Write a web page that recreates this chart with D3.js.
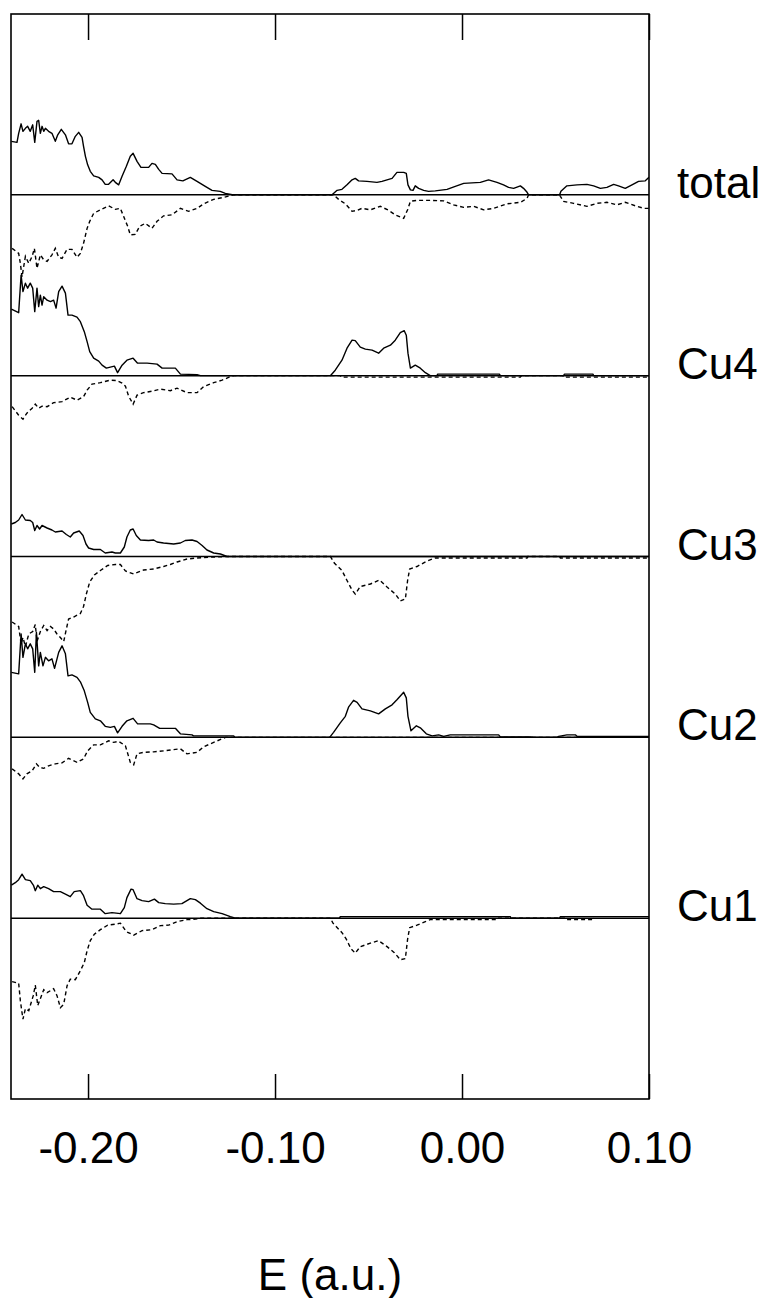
<!DOCTYPE html>
<html>
<head>
<meta charset="utf-8">
<script src="https://cdn.jsdelivr.net/npm/d3@7"></script>
<style>
  html, body { margin: 0; padding: 0; background: #fff; }
  svg { display: block; }
  text { font-family: "Liberation Sans", Arial, Helvetica, sans-serif; fill: #000; }
</style>
</head>
<body>
<script>
// Spin-resolved density of states: total and per Cu site.
// Each curve is a list of [energy (a.u.), DOS] pairs; spin up positive, spin down negative.

const panelLabels = ["total", "Cu4", "Cu3", "Cu2", "Cu1"];
const energyTicks = [-0.20, -0.10, 0.00, 0.10];
const energyDomain = [-0.2412, 0.10];
const axisTitle = "E (a.u.)";

const totalUp = [
  [-0.2410,1.07],[-0.2380,1.05],[-0.2371,1.23],[-0.2358,1.42],[-0.2348,1.27],[-0.2335,1.33],[-0.2323,1.37],[-0.2309,1.27],[-0.2296,1.40],[-0.2285,1.05],[-0.2273,1.47],[-0.2264,1.49],[-0.2255,1.23],[-0.2246,1.37],[-0.2237,1.27],[-0.2228,1.33],[-0.2211,1.27],[-0.2193,1.23],[-0.2175,1.07],[-0.2162,1.20],[-0.2143,1.31],[-0.2121,1.20],[-0.2104,1.02],[-0.2086,1.02],[-0.2068,1.17],[-0.2050,1.25],[-0.2032,1.15],[-0.2024,0.97],[-0.2014,0.77],[-0.2002,0.60],[-0.1988,0.47],[-0.1970,0.38],[-0.1943,0.35],[-0.1925,0.30],[-0.1908,0.21],[-0.1890,0.21],[-0.1866,0.30],[-0.1854,0.25],[-0.1836,0.20],[-0.1818,0.37],[-0.1795,0.57],[-0.1774,0.77],[-0.1759,0.83],[-0.1738,0.67],[-0.1717,0.55],[-0.1676,0.55],[-0.1658,0.63],[-0.1640,0.61],[-0.1622,0.51],[-0.1604,0.43],[-0.1551,0.42],[-0.1524,0.30],[-0.1493,0.28],[-0.1453,0.35],[-0.1417,0.27],[-0.1373,0.17],[-0.1337,0.09],[-0.1293,0.07],[-0.1266,0.03],[-0.1221,0],
  [-0.0695,0],[-0.0668,0.09],[-0.0642,0.11],[-0.0615,0.20],[-0.0588,0.30],[-0.0571,0.33],[-0.0553,0.28],[-0.0508,0.27],[-0.0455,0.25],[-0.0428,0.27],[-0.0401,0.30],[-0.0374,0.33],[-0.0348,0.45],[-0.0312,0.45],[-0.0298,0.43],[-0.0289,0.20],[-0.0276,0.10],[-0.0262,0.09],[-0.0250,0.18],[-0.0232,0.13],[-0.0205,0.09],[-0.0179,0.07],[-0.0143,0.08],[-0.0080,0.11],[-0.0036,0.17],[0.0009,0.23],[0.0098,0.25],[0.0142,0.30],[0.0187,0.25],[0.0222,0.20],[0.0249,0.15],[0.0276,0.13],[0.0312,0.18],[0.0329,0.13],[0.0348,0.05],[0.0356,0],
  [0.0522,0],[0.0529,0.07],[0.0561,0.18],[0.0615,0.20],[0.0668,0.21],[0.0704,0.18],[0.0740,0.13],[0.0775,0.15],[0.0811,0.21],[0.0837,0.18],[0.0873,0.13],[0.0909,0.20],[0.0944,0.27],[0.0980,0.28],[0.1000,0.35]
];
const totalDown = [
  [-0.2406,-1.07],[-0.2371,-1.17],[-0.2362,-1.37],[-0.2353,-1.64],[-0.2335,-1.23],[-0.2317,-1.37],[-0.2299,-1.23],[-0.2287,-1.07],[-0.2273,-1.47],[-0.2255,-1.20],[-0.2237,-1.30],[-0.2219,-1.33],[-0.2193,-1.20],[-0.2175,-1.07],[-0.2157,-1.25],[-0.2139,-1.27],[-0.2112,-1.09],[-0.2086,-1.09],[-0.2059,-1.25],[-0.2041,-1.17],[-0.2024,-0.97],[-0.2005,-0.67],[-0.1991,-0.53],[-0.1970,-0.37],[-0.1934,-0.30],[-0.1890,-0.22],[-0.1854,-0.29],[-0.1827,-0.27],[-0.1810,-0.43],[-0.1788,-0.63],[-0.1774,-0.80],[-0.1747,-0.79],[-0.1724,-0.63],[-0.1694,-0.57],[-0.1658,-0.67],[-0.1631,-0.53],[-0.1596,-0.42],[-0.1551,-0.40],[-0.1506,-0.27],[-0.1462,-0.33],[-0.1417,-0.27],[-0.1382,-0.18],[-0.1328,-0.09],[-0.1275,-0.05],[-0.1221,0],
  [-0.0687,0],[-0.0660,-0.09],[-0.0624,-0.18],[-0.0588,-0.33],[-0.0561,-0.31],[-0.0535,-0.27],[-0.0490,-0.30],[-0.0437,-0.23],[-0.0392,-0.31],[-0.0357,-0.40],[-0.0312,-0.47],[-0.0291,-0.30],[-0.0276,-0.13],[-0.0241,-0.11],[-0.0170,-0.11],[-0.0098,-0.12],[-0.0045,-0.20],[0.0009,-0.25],[0.0062,-0.23],[0.0116,-0.30],[0.0169,-0.27],[0.0241,-0.18],[0.0312,-0.15],[0.0348,-0.07],[0.0356,0],
  [0.0522,0],[0.0526,-0.03],[0.0543,-0.13],[0.0597,-0.17],[0.0668,-0.23],[0.0722,-0.17],[0.0775,-0.15],[0.0829,-0.20],[0.0873,-0.15],[0.0927,-0.22],[0.0971,-0.27],[0.1000,-0.27]
];

const cu4Up = [
  [-0.2410,1.33],[-0.2371,1.26],[-0.2358,2.01],[-0.2348,1.68],[-0.2335,1.85],[-0.2323,1.75],[-0.2309,1.85],[-0.2296,1.75],[-0.2285,1.28],[-0.2273,1.75],[-0.2264,1.38],[-0.2255,1.61],[-0.2246,1.41],[-0.2237,1.58],[-0.2219,1.51],[-0.2201,1.48],[-0.2184,1.51],[-0.2171,1.35],[-0.2157,1.68],[-0.2139,1.79],[-0.2121,1.65],[-0.2107,1.21],[-0.2086,1.21],[-0.2059,1.17],[-0.2041,1.08],[-0.2020,0.88],[-0.2005,0.68],[-0.1991,0.48],[-0.1970,0.35],[-0.1943,0.29],[-0.1925,0.21],[-0.1902,0.15],[-0.1881,0.17],[-0.1859,0.19],[-0.1842,0.06],[-0.1818,0.21],[-0.1792,0.31],[-0.1759,0.35],[-0.1735,0.25],[-0.1684,0.25],[-0.1631,0.23],[-0.1604,0.15],[-0.1533,0.15],[-0.1506,0.03],[-0.1417,0.02],[-0.1399,0],
  [-0.0704,0],[-0.0678,0.11],[-0.0642,0.31],[-0.0615,0.55],[-0.0588,0.71],[-0.0571,0.70],[-0.0544,0.57],[-0.0517,0.53],[-0.0481,0.51],[-0.0446,0.45],[-0.0419,0.55],[-0.0383,0.61],[-0.0357,0.71],[-0.0330,0.86],[-0.0309,0.90],[-0.0298,0.81],[-0.0289,0.45],[-0.0276,0.15],[-0.0250,0.21],[-0.0223,0.15],[-0.0196,0.06],[-0.0170,0],
  [-0.0134,0],[-0.0130,0.03],[0.0200,0.03],[0.0205,0],
  [0.0543,0],[0.0548,0.03],[0.0700,0.03],[0.0704,0],[0.1000,0]
];
const cu4Down = [
  [-0.2406,-0.62],[-0.2371,-0.79],[-0.2348,-0.87],[-0.2327,-0.75],[-0.2299,-0.65],[-0.2282,-0.57],[-0.2264,-0.65],[-0.2246,-0.61],[-0.2219,-0.62],[-0.2184,-0.54],[-0.2139,-0.52],[-0.2095,-0.43],[-0.2059,-0.49],[-0.2024,-0.42],[-0.2005,-0.29],[-0.1979,-0.17],[-0.1934,-0.14],[-0.1881,-0.09],[-0.1845,-0.10],[-0.1818,-0.15],[-0.1800,-0.21],[-0.1783,-0.41],[-0.1759,-0.57],[-0.1738,-0.39],[-0.1703,-0.34],[-0.1658,-0.31],[-0.1613,-0.27],[-0.1560,-0.30],[-0.1524,-0.25],[-0.1471,-0.34],[-0.1417,-0.34],[-0.1382,-0.22],[-0.1328,-0.14],[-0.1283,-0.09],[-0.1239,-0.02],[-0.1221,0],
  [-0.0651,0],[-0.0645,-0.03],[0.0312,-0.03],[0.0318,0],
  [0.0540,0],[0.0543,-0.03],[0.1000,-0.03]
];

const cu3Up = [
  [-0.2410,0.65],[-0.2389,0.68],[-0.2371,0.73],[-0.2353,0.84],[-0.2335,0.73],[-0.2309,0.72],[-0.2296,0.68],[-0.2285,0.52],[-0.2273,0.62],[-0.2259,0.55],[-0.2246,0.62],[-0.2219,0.57],[-0.2193,0.53],[-0.2175,0.49],[-0.2139,0.51],[-0.2116,0.44],[-0.2095,0.39],[-0.2077,0.47],[-0.2047,0.51],[-0.2027,0.42],[-0.2011,0.25],[-0.1997,0.17],[-0.1970,0.14],[-0.1934,0.14],[-0.1908,0.07],[-0.1872,0.09],[-0.1854,0.07],[-0.1827,0.07],[-0.1806,0.19],[-0.1792,0.39],[-0.1774,0.53],[-0.1759,0.55],[-0.1742,0.42],[-0.1720,0.33],[-0.1676,0.32],[-0.1649,0.33],[-0.1631,0.29],[-0.1596,0.27],[-0.1542,0.25],[-0.1506,0.27],[-0.1480,0.32],[-0.1444,0.33],[-0.1417,0.30],[-0.1390,0.22],[-0.1364,0.13],[-0.1328,0.07],[-0.1292,0.05],[-0.1257,0],[0.1000,0]
];
const cu3Down = [
  [-0.2406,-1.31],[-0.2371,-1.40],[-0.2358,-1.75],[-0.2348,-1.62],[-0.2335,-1.80],[-0.2317,-1.55],[-0.2296,-1.50],[-0.2282,-1.36],[-0.2273,-1.70],[-0.2255,-1.50],[-0.2237,-1.38],[-0.2219,-1.48],[-0.2201,-1.40],[-0.2184,-1.45],[-0.2166,-1.55],[-0.2148,-1.62],[-0.2130,-1.70],[-0.2116,-1.45],[-0.2104,-1.25],[-0.2077,-1.21],[-0.2041,-1.14],[-0.2024,-1.00],[-0.2009,-0.75],[-0.1991,-0.51],[-0.1966,-0.37],[-0.1934,-0.28],[-0.1895,-0.18],[-0.1854,-0.16],[-0.1827,-0.16],[-0.1800,-0.29],[-0.1756,-0.35],[-0.1703,-0.27],[-0.1649,-0.25],[-0.1596,-0.20],[-0.1560,-0.16],[-0.1524,-0.11],[-0.1471,-0.05],[-0.1417,-0.03],[-0.1328,-0.01],[-0.1257,0],
  [-0.0704,0],[-0.0683,-0.13],[-0.0642,-0.28],[-0.0615,-0.48],[-0.0588,-0.67],[-0.0571,-0.75],[-0.0544,-0.60],[-0.0490,-0.55],[-0.0441,-0.47],[-0.0401,-0.61],[-0.0357,-0.75],[-0.0330,-0.89],[-0.0303,-0.85],[-0.0291,-0.48],[-0.0280,-0.25],[-0.0241,-0.20],[-0.0187,-0.09],[-0.0143,-0.03],[0.0348,-0.03],[0.0352,0],
  [0.0522,0],[0.0526,-0.03],[0.1000,-0.03]
];

const cu2Up = [
  [-0.2410,1.30],[-0.2371,1.27],[-0.2358,2.07],[-0.2348,1.60],[-0.2335,1.87],[-0.2323,1.77],[-0.2309,1.87],[-0.2296,1.77],[-0.2285,1.30],[-0.2276,2.10],[-0.2264,1.43],[-0.2255,1.70],[-0.2241,1.43],[-0.2228,1.60],[-0.2211,1.53],[-0.2193,1.57],[-0.2179,1.38],[-0.2157,1.70],[-0.2139,1.83],[-0.2121,1.67],[-0.2107,1.23],[-0.2086,1.25],[-0.2059,1.20],[-0.2041,1.11],[-0.2020,0.93],[-0.2002,0.70],[-0.1988,0.50],[-0.1961,0.37],[-0.1934,0.33],[-0.1908,0.22],[-0.1881,0.20],[-0.1859,0.22],[-0.1842,0.09],[-0.1818,0.22],[-0.1792,0.33],[-0.1759,0.38],[-0.1735,0.27],[-0.1667,0.27],[-0.1649,0.25],[-0.1617,0.18],[-0.1533,0.18],[-0.1506,0.07],[-0.1444,0.05],[-0.1436,0.03],[-0.1221,0.03],[-0.1215,0],
  [-0.0708,0],[-0.0687,0.10],[-0.0651,0.29],[-0.0624,0.42],[-0.0606,0.61],[-0.0580,0.74],[-0.0561,0.70],[-0.0535,0.57],[-0.0490,0.53],[-0.0446,0.47],[-0.0410,0.57],[-0.0374,0.65],[-0.0348,0.75],[-0.0312,0.90],[-0.0298,0.79],[-0.0289,0.42],[-0.0273,0.13],[-0.0244,0.23],[-0.0223,0.19],[-0.0191,0.07],[-0.0160,0.03],[-0.0125,0.05],[-0.0098,0.02],[-0.0063,0.05],[0.0196,0.05],[0.0205,0.01],[0.0365,0.01],[0.0383,0],[0.0508,0],[0.0517,0.02],[0.0561,0.05],[0.0606,0.05],[0.0615,0.02],[0.1000,0.02]
];
const cu2Down = [
  [-0.2406,-0.63],[-0.2371,-0.73],[-0.2348,-0.83],[-0.2327,-0.73],[-0.2299,-0.67],[-0.2276,-0.53],[-0.2259,-0.60],[-0.2237,-0.62],[-0.2211,-0.57],[-0.2175,-0.53],[-0.2139,-0.51],[-0.2104,-0.42],[-0.2059,-0.50],[-0.2024,-0.43],[-0.2002,-0.27],[-0.1970,-0.15],[-0.1934,-0.15],[-0.1890,-0.07],[-0.1863,-0.10],[-0.1836,-0.08],[-0.1800,-0.17],[-0.1774,-0.50],[-0.1756,-0.55],[-0.1738,-0.33],[-0.1703,-0.30],[-0.1649,-0.29],[-0.1596,-0.27],[-0.1551,-0.25],[-0.1506,-0.23],[-0.1471,-0.33],[-0.1417,-0.30],[-0.1382,-0.19],[-0.1328,-0.10],[-0.1283,-0.03],[-0.1265,0],[0.1000,0]
];

const cu1Up = [
  [-0.2410,0.66],[-0.2389,0.71],[-0.2371,0.77],[-0.2353,0.88],[-0.2335,0.77],[-0.2309,0.75],[-0.2291,0.65],[-0.2282,0.55],[-0.2269,0.66],[-0.2255,0.59],[-0.2237,0.63],[-0.2211,0.59],[-0.2184,0.53],[-0.2148,0.53],[-0.2121,0.48],[-0.2095,0.43],[-0.2074,0.53],[-0.2041,0.55],[-0.2024,0.45],[-0.2005,0.26],[-0.1979,0.18],[-0.1934,0.18],[-0.1908,0.09],[-0.1872,0.11],[-0.1827,0.09],[-0.1806,0.21],[-0.1792,0.41],[-0.1770,0.58],[-0.1759,0.57],[-0.1738,0.39],[-0.1711,0.35],[-0.1676,0.33],[-0.1645,0.38],[-0.1622,0.31],[-0.1587,0.29],[-0.1542,0.28],[-0.1498,0.29],[-0.1453,0.39],[-0.1426,0.37],[-0.1399,0.30],[-0.1364,0.19],[-0.1328,0.13],[-0.1283,0.09],[-0.1239,0.03],[-0.1212,0],
  [-0.0655,0],[-0.0651,0.03],[0.0258,0.03],[0.0262,0],[0.0522,0],[0.0526,0.03],[0.1000,0.03]
];
const cu1Down = [
  [-0.2406,-1.27],[-0.2371,-1.30],[-0.2362,-1.65],[-0.2353,-1.89],[-0.2348,-2.02],[-0.2335,-1.81],[-0.2317,-1.85],[-0.2293,-1.55],[-0.2282,-1.34],[-0.2269,-1.75],[-0.2255,-1.61],[-0.2237,-1.43],[-0.2219,-1.49],[-0.2201,-1.45],[-0.2184,-1.41],[-0.2166,-1.55],[-0.2148,-1.79],[-0.2130,-1.72],[-0.2112,-1.35],[-0.2095,-1.22],[-0.2068,-1.23],[-0.2041,-1.05],[-0.2020,-0.89],[-0.2005,-0.65],[-0.1988,-0.45],[-0.1966,-0.32],[-0.1934,-0.23],[-0.1895,-0.14],[-0.1854,-0.12],[-0.1827,-0.10],[-0.1795,-0.27],[-0.1756,-0.34],[-0.1711,-0.25],[-0.1658,-0.23],[-0.1613,-0.15],[-0.1569,-0.14],[-0.1524,-0.07],[-0.1471,-0.03],[-0.1426,-0.02],[-0.1399,0],
  [-0.0704,0],[-0.0690,-0.10],[-0.0642,-0.29],[-0.0619,-0.42],[-0.0594,-0.61],[-0.0571,-0.70],[-0.0544,-0.57],[-0.0490,-0.50],[-0.0446,-0.45],[-0.0401,-0.57],[-0.0362,-0.69],[-0.0330,-0.83],[-0.0303,-0.81],[-0.0291,-0.42],[-0.0280,-0.19],[-0.0241,-0.14],[-0.0196,-0.07],[-0.0170,-0.03],[0.0187,-0.03],[0.0192,0],[0.0556,0],[0.0561,-0.03],[0.0704,-0.03],[0.0708,0]
];

// Spin-up / spin-down curve pairs, in the same order as panelLabels
const panelCurves = [
  [totalUp, totalDown],
  [cu4Up, cu4Down],
  [cu3Up, cu3Down],
  [cu2Up, cu2Down],
  [cu1Up, cu1Down]
];

// ---- layout ----
const W = 766, H = 1298;
const frame = { left: 11, right: 649, top: 14, bottom: 1099 };
const fontSize = 44;

const svg = d3.select("body").append("svg")
  .attr("width", W).attr("height", H)
  .attr("viewBox", `0 0 ${W} ${H}`);

const x = d3.scaleLinear().domain(energyDomain).range([frame.left, frame.right]);

// Panel baselines split the frame height into six equal slots
const slot = d3.scaleLinear().domain([0, panelLabels.length + 1]).range([frame.top, frame.bottom]);
// DOS scale shared by all panels (pixels per unit, relative to each baseline)
const y = d3.scaleLinear().domain([0, 1]).range([0, -50]);

svg.append("defs").append("clipPath").attr("id", "plot-clip")
  .append("rect")
  .attr("x", frame.left).attr("y", frame.top)
  .attr("width", frame.right - frame.left).attr("height", frame.bottom - frame.top);

const line = d3.line().x(d => x(d[0])).y(d => y(d[1]));

const plot = svg.append("g").attr("clip-path", "url(#plot-clip)");

panelLabels.forEach((label, i) => {
  const base = slot(i + 1);
  const g = plot.append("g").attr("transform", `translate(0,${base})`);

  // zero line
  g.append("line")
    .attr("x1", frame.left).attr("x2", frame.right)
    .attr("y1", y(0)).attr("y2", y(0))
    .attr("stroke", "#000").attr("stroke-width", 1.5);

  const [up, down] = panelCurves[i];
  g.append("path").datum(down)
    .attr("d", line)
    .attr("fill", "none").attr("stroke", "#000")
    .attr("stroke-width", 1.4)
    .attr("stroke-dasharray", "4,3");
  g.append("path").datum(up)
    .attr("d", line)
    .attr("fill", "none").attr("stroke", "#000")
    .attr("stroke-width", 1.4)
    .attr("stroke-linejoin", "round");

  svg.append("text")
    .attr("x", 677).attr("y", base + 3)
    .attr("font-size", fontSize)
    .text(label);
});

// ---- axes: inward ticks on top and bottom ----
const fmt = d => d.toFixed(2);

const bottomAxis = d3.axisBottom(x)
  .tickValues(energyTicks)
  .tickSizeInner(-25).tickSizeOuter(0)
  .tickPadding(33)
  .tickFormat(fmt);
const gb = svg.append("g").attr("transform", `translate(0,${frame.bottom})`).call(bottomAxis);
gb.select(".domain").remove();
gb.selectAll(".tick line").attr("stroke", "#000").attr("stroke-width", 1.5);
gb.selectAll(".tick text")
  .attr("font-size", fontSize)
  .attr("font-family", '"Liberation Sans", Arial, sans-serif')
  .attr("fill", "#000");

const topAxis = d3.axisTop(x)
  .tickValues(energyTicks)
  .tickSizeInner(-26).tickSizeOuter(0)
  .tickFormat("");
const gt = svg.append("g").attr("transform", `translate(0,${frame.top})`).call(topAxis);
gt.select(".domain").remove();
gt.selectAll(".tick line").attr("stroke", "#000").attr("stroke-width", 1.5);

// frame
svg.append("rect")
  .attr("x", frame.left).attr("y", frame.top)
  .attr("width", frame.right - frame.left).attr("height", frame.bottom - frame.top)
  .attr("fill", "none").attr("stroke", "#000").attr("stroke-width", 1.6);

// axis title
svg.append("text")
  .attr("x", (frame.left + frame.right) / 2).attr("y", 1290)
  .attr("text-anchor", "middle")
  .attr("font-size", fontSize)
  .text(axisTitle);
</script>
</body>
</html>
